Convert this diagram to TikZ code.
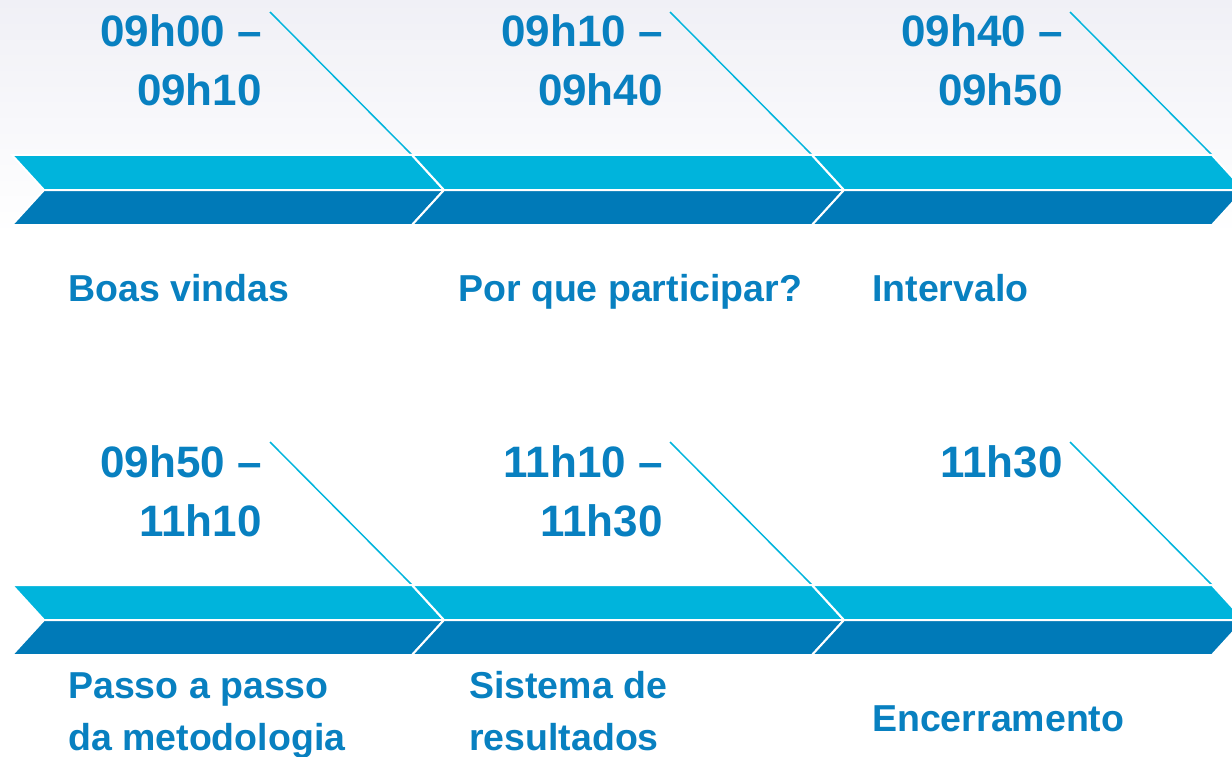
\documentclass[tikz,border=0pt]{standalone}
\usepackage{fontspec}
\setmainfont{Liberation Sans}
\definecolor{bandlight}{RGB}{0,180,220}
\definecolor{banddark}{RGB}{0,122,184}
\definecolor{txtblue}{RGB}{8,128,192}
\definecolor{skygrey}{RGB}{240,240,246}

\begin{document}
\begin{tikzpicture}[x=1pt, y=-1pt,
    uband/.style={fill=bandlight, draw=white, line width=2pt},
    lband/.style={fill=banddark, draw=white, line width=2pt},
    tick/.style={draw=bandlight, line width=1.5pt},
    hour/.style={text=txtblue, font=\fontsize{44}{59}\selectfont\bfseries, align=right, anchor=base east, inner sep=0pt},
    topic/.style={text=txtblue, font=\fontsize{37.5}{52}\selectfont\bfseries, align=left, anchor=base west, inner sep=0pt}]
                        \useasboundingbox (0,0) rectangle (1232,757);
                        \clip (0,0) rectangle (1232,757);
                        \shade[top color=skygrey, bottom color=white] (0,0) rectangle (1232,235);
                        % ticks from the hours down to the arrow tips
                        \foreach \n/\x/\y in {1/12/155, 2/412/155, 3/812/155, 4/12/585, 5/412/585, 6/812/585} {
                            \coordinate (d\n) at (\x+258,\y-143);
                            \coordinate (c\n) at (\x+400,\y);
                            \draw[tick] (d\n) -- (c\n);
                        }
                        % the two rows of chevrons
                        \foreach \y in {155,585} {
                            \foreach \x in {12,412,812} {
                                \draw[uband] (\x,\y) -- (\x+32,\y+35) -- (\x+432,\y+35) -- (\x+400,\y) -- cycle;
                                \draw[lband] (\x+32,\y+35) -- (\x,\y+70) -- (\x+400,\y+70) -- (\x+432,\y+35) -- cycle;
                            }
                        }
                        % base = last line of a node
                        \node[hour] (t1) at (262,106) {09h00 –\\09h10};
                        \node[hour] (t2) at (663,106) {09h10 –\\09h40};
                        \node[hour] (t3) at (1063,106) {09h40 –\\09h50};
                        \node[hour] (t4) at (262,536) {09h50 –\\11h10};
                        \node[hour] (t5) at (663,536) {11h10 –\\11h30};
                        \node[hour] (t6) at (1063,477) {11h30};
                        \node[topic] (l1) at (68,301) {Boas vindas};
                        \node[topic] (l2) at (458,301) {Por que participar?};
                        \node[topic] (l3) at (872,301) {Intervalo};
                        \node[topic] (l4) at (68,750) {Passo a passo\\da metodologia};
                        \node[topic] (l5) at (469,750) {Sistema de\\resultados};
                        \node[topic] (l6) at (872,731) {Encerramento};
                    \end{tikzpicture}
\end{document}
